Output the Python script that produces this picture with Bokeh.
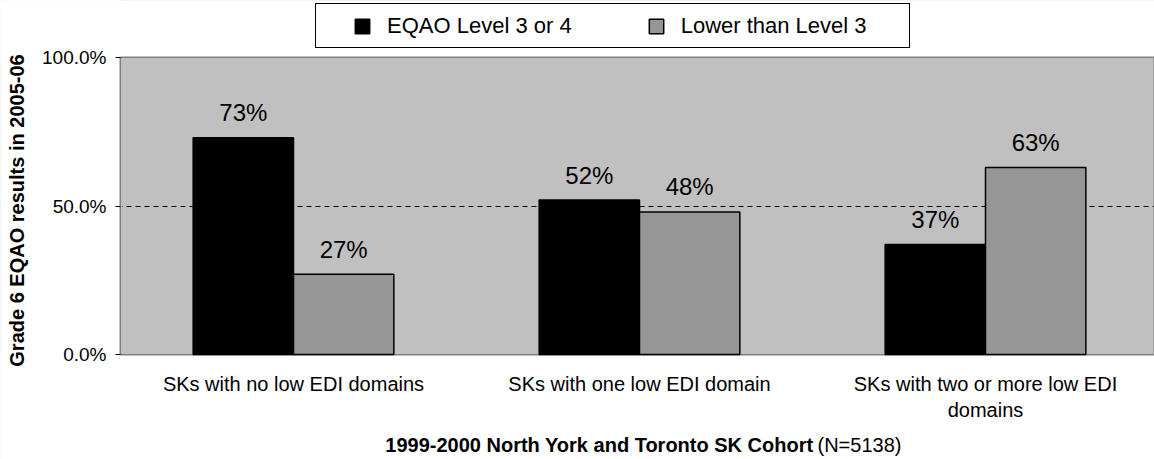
import math
from bokeh.plotting import figure
from bokeh.models import (Range1d, FixedTicker, NumeralTickFormatter, Legend,
                          LegendItem, Label, ColumnDataSource, BoxAnnotation)
from bokeh.core.properties import value
from bokeh.embed import file_html
from bokeh.resources import INLINE

# ---- data ----
categories = ["SKs with no low EDI domains",
              "SKs with one low EDI domain",
              "SKs with two or more low EDI\ndomains"]
series_names = ["EQAO Level 3 or 4", "Lower than Level 3"]
level_3_or_4 = [0.73, 0.52, 0.37]
lower_than_3 = [0.27, 0.48, 0.63]
y_ticks = [0.0, 0.5, 1.0]
grid_ticks = [0.5]
y_title = "Grade 6 EQAO results in 2005-06"
x_title_bold = "1999-2000 North York and Toronto SK Cohort"
x_title_regular = "(N=5138)"

# ---- layout / style ----
W, H = 1154, 459
PLOT_LEFT, PLOT_TOP, PLOT_BOTTOM = 120, 57, 354
CAT_PX = 346
Y_PX = PLOT_BOTTOM - PLOT_TOP
FONT = "Liberation Sans"
BLACK_BAR = "#000000"
GRAY_BAR = "#969696"
BG = "#C0C0C0"
EDGE = "#808080"

idx = list(range(len(categories)))
centers = [i + 0.5 for i in idx]
bar_w = 0.29
off = 0.145

src_a = ColumnDataSource(dict(x=[c - off for c in centers], top=level_3_or_4,
                              lab=[f"{round(v*100)}%" for v in level_3_or_4]))
src_b = ColumnDataSource(dict(x=[c + off for c in centers], top=lower_than_3,
                              lab=[f"{round(v*100)}%" for v in lower_than_3]))

p = figure(width=W, height=H, output_backend="svg", toolbar_location=None,
           x_range=Range1d(-PLOT_LEFT / CAT_PX, (W - PLOT_LEFT) / CAT_PX),
           y_range=Range1d(-(H - PLOT_BOTTOM) / Y_PX, 1 + PLOT_TOP / Y_PX),
           min_border=0)
p.background_fill_color = BG
p.border_fill_color = "white"
p.outline_line_color = None

# grid (dashed 50% line)
p.xgrid.grid_line_color = None
p.ygrid.ticker = FixedTicker(ticks=grid_ticks)
p.ygrid.grid_line_color = "black"
p.ygrid.grid_line_dash = "5 4"
p.ygrid.grid_line_width = 1

# white areas outside the plot area, then the plot-area border
for kw in (dict(right=0), dict(bottom=1), dict(top=0)):
    p.add_layout(BoxAnnotation(fill_color="white", fill_alpha=1,
                               line_color="white", line_alpha=1, line_width=3,
                               level="underlay", **kw))
p.add_layout(BoxAnnotation(left=0, bottom=0, top=1, fill_alpha=0,
                           line_color=EDGE, line_alpha=1, line_width=2,
                           level="underlay"))

ra = p.vbar(x="x", top="top", width=bar_w, source=src_a, fill_color=BLACK_BAR,
            line_color="black", line_width=1.5)
rb = p.vbar(x="x", top="top", width=bar_w, source=src_b, fill_color=GRAY_BAR,
            line_color="black", line_width=1.5)

for s in (src_a, src_b):
    p.text(x="x", y="top", text="lab", source=s, text_align="center",
           text_baseline="alphabetic", y_offset=-25, text_font_size="24px",
           text_font=value(FONT), text_color="black")

# y axis
ya = p.yaxis[0]
ya.fixed_location = 0
ya.ticker = FixedTicker(ticks=y_ticks)
ya.formatter = NumeralTickFormatter(format="0.0%")
ya.axis_line_color = None
ya.major_tick_line_color = "black"
ya.major_tick_out = 5
ya.major_tick_in = 0
ya.minor_tick_line_color = None
ya.major_label_standoff = 9
ya.major_label_text_font = FONT
ya.major_label_text_font_size = "19px"
ya.major_label_text_color = "black"

# x axis
xa = p.xaxis[0]
xa.fixed_location = 0
xa.ticker = FixedTicker(ticks=centers)
xa.major_label_overrides = {c: lab for c, lab in zip(centers, categories)}
xa.axis_line_color = None
xa.major_tick_line_color = None
xa.minor_tick_line_color = None
xa.major_label_standoff = 12
xa.major_label_text_font = FONT
xa.major_label_text_font_size = "20px"
xa.major_label_text_color = "black"

# axis titles
p.add_layout(Label(x=16, y=H - 210, x_units="screen", y_units="screen",
                   angle=math.pi / 2, text=y_title, text_align="center",
                   text_baseline="middle", text_font=FONT,
                   text_font_size="20px", text_font_style="bold",
                   text_color="black"))
p.add_layout(Label(x=813, y=H - 444, x_units="screen", y_units="screen",
                   text=x_title_bold, text_align="right",
                   text_baseline="alphabetic", text_font=FONT,
                   text_font_size="20px", text_font_style="bold",
                   text_color="black"))
p.add_layout(Label(x=817, y=H - 444, x_units="screen", y_units="screen",
                   text=x_title_regular, text_align="left",
                   text_baseline="alphabetic", text_font=FONT,
                   text_font_size="20px", text_color="black"))

# legend: a box legend behind, and the item legend on top
dummy = p.scatter(x=[], y=[], fill_alpha=0, line_alpha=0)
box = Legend(items=[LegendItem(label=" ", renderers=[dummy])],
             location=(315, H - 48), orientation="horizontal", padding=9,
             glyph_width=18, glyph_height=18, label_standoff=16,
             label_width=593 - 18 - 18 - 16, label_height=25,
             label_text_font=FONT, label_text_font_size="22px", margin=0,
             border_line_color="black", border_line_width=1,
             border_line_alpha=1,
             background_fill_color="white", background_fill_alpha=1)
leg = Legend(items=[LegendItem(label=series_names[0], renderers=[ra]),
                    LegendItem(label=series_names[1], renderers=[rb])],
             location=(353, H - 48 + 9), orientation="horizontal", padding=0,
             glyph_width=18, glyph_height=18, label_standoff=16, spacing=75,
             label_height=25,
             label_text_font=FONT, label_text_font_size="22px", margin=0,
             label_text_color="black",
             border_line_color=None, background_fill_alpha=0)
p.add_layout(box)
p.add_layout(leg)

open("out.html", "w").write(file_html(p, INLINE))
